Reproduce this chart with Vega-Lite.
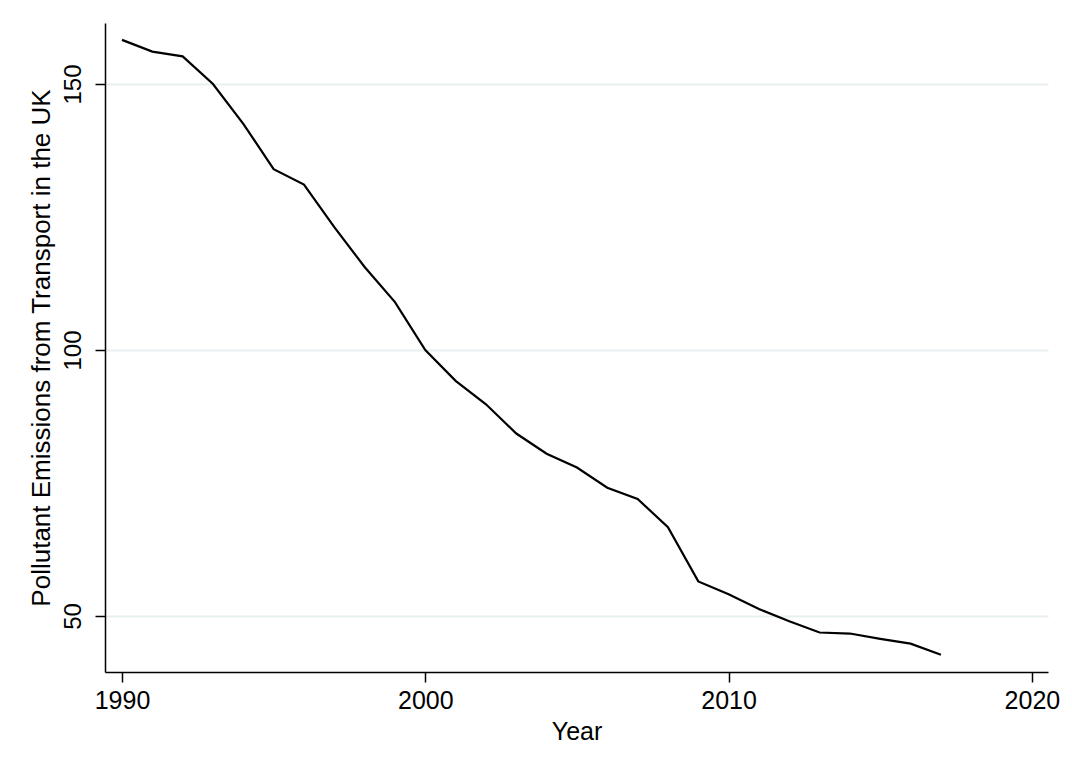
{
  "$schema": "https://vega.github.io/schema/vega-lite/v6.json",
  "width": 943,
  "height": 649,
  "autosize": {"type": "none"},
  "padding": {"left": 105, "top": 23, "right": 24, "bottom": 104},
  "background": "white",
  "config": {
    "view": {"stroke": null},
    "font": "Liberation Sans"
  },
  "data": {
    "values": [
      {"Year": 1990, "Emissions": 158.3},
      {"Year": 1991, "Emissions": 156.1},
      {"Year": 1992, "Emissions": 155.2},
      {"Year": 1993, "Emissions": 150.0},
      {"Year": 1994, "Emissions": 142.5},
      {"Year": 1995, "Emissions": 134.0},
      {"Year": 1996, "Emissions": 131.1},
      {"Year": 1997, "Emissions": 123.1},
      {"Year": 1998, "Emissions": 115.6},
      {"Year": 1999, "Emissions": 109.0},
      {"Year": 2000, "Emissions": 100.0},
      {"Year": 2001, "Emissions": 94.2},
      {"Year": 2002, "Emissions": 89.8},
      {"Year": 2003, "Emissions": 84.3},
      {"Year": 2004, "Emissions": 80.5},
      {"Year": 2005, "Emissions": 77.9},
      {"Year": 2006, "Emissions": 74.1},
      {"Year": 2007, "Emissions": 72.0},
      {"Year": 2008, "Emissions": 66.7},
      {"Year": 2009, "Emissions": 56.5},
      {"Year": 2010, "Emissions": 54.1},
      {"Year": 2011, "Emissions": 51.3},
      {"Year": 2012, "Emissions": 49.0},
      {"Year": 2013, "Emissions": 46.9},
      {"Year": 2014, "Emissions": 46.7},
      {"Year": 2015, "Emissions": 45.7},
      {"Year": 2016, "Emissions": 44.8},
      {"Year": 2017, "Emissions": 42.7}
    ]
  },
  "mark": {"type": "line", "color": "#000000", "strokeWidth": 2.2},
  "encoding": {
    "x": {
      "field": "Year",
      "type": "quantitative",
      "scale": {"domain": [1989.44, 2020.53], "nice": false, "zero": false},
      "axis": {
        "values": [1990, 2000, 2010, 2020],
        "format": "d",
        "grid": false,
        "domainColor": "#000000",
        "domainWidth": 1.5,
        "tickColor": "#000000",
        "tickWidth": 1.5,
        "tickSize": 10,
        "labelFontSize": 25,
        "labelColor": "#000000",
        "labelPadding": 6,
        "labelFlush": false,
        "title": "Year",
        "titleFontSize": 25,
        "titleFontWeight": "normal",
        "titleColor": "#000000",
        "titlePadding": 6
      }
    },
    "y": {
      "field": "Emissions",
      "type": "quantitative",
      "scale": {"domain": [39.47, 161.47], "nice": false, "zero": false},
      "axis": {
        "values": [50, 100, 150],
        "grid": true,
        "gridColor": "#e8f0f1",
        "gridWidth": 2,
        "domainColor": "#000000",
        "domainWidth": 1.5,
        "tickColor": "#000000",
        "tickWidth": 1.5,
        "tickSize": 10,
        "labelFontSize": 24,
        "labelColor": "#000000",
        "labelAngle": -90,
        "labelAlign": "center",
        "labelBaseline": "bottom",
        "labelPadding": 10,
        "labelFlush": false,
        "title": "Pollutant Emissions from Transport in the UK",
        "titleFontSize": 26,
        "titleFontWeight": "normal",
        "titleColor": "#000000",
        "titlePadding": 7
      }
    }
  }
}
